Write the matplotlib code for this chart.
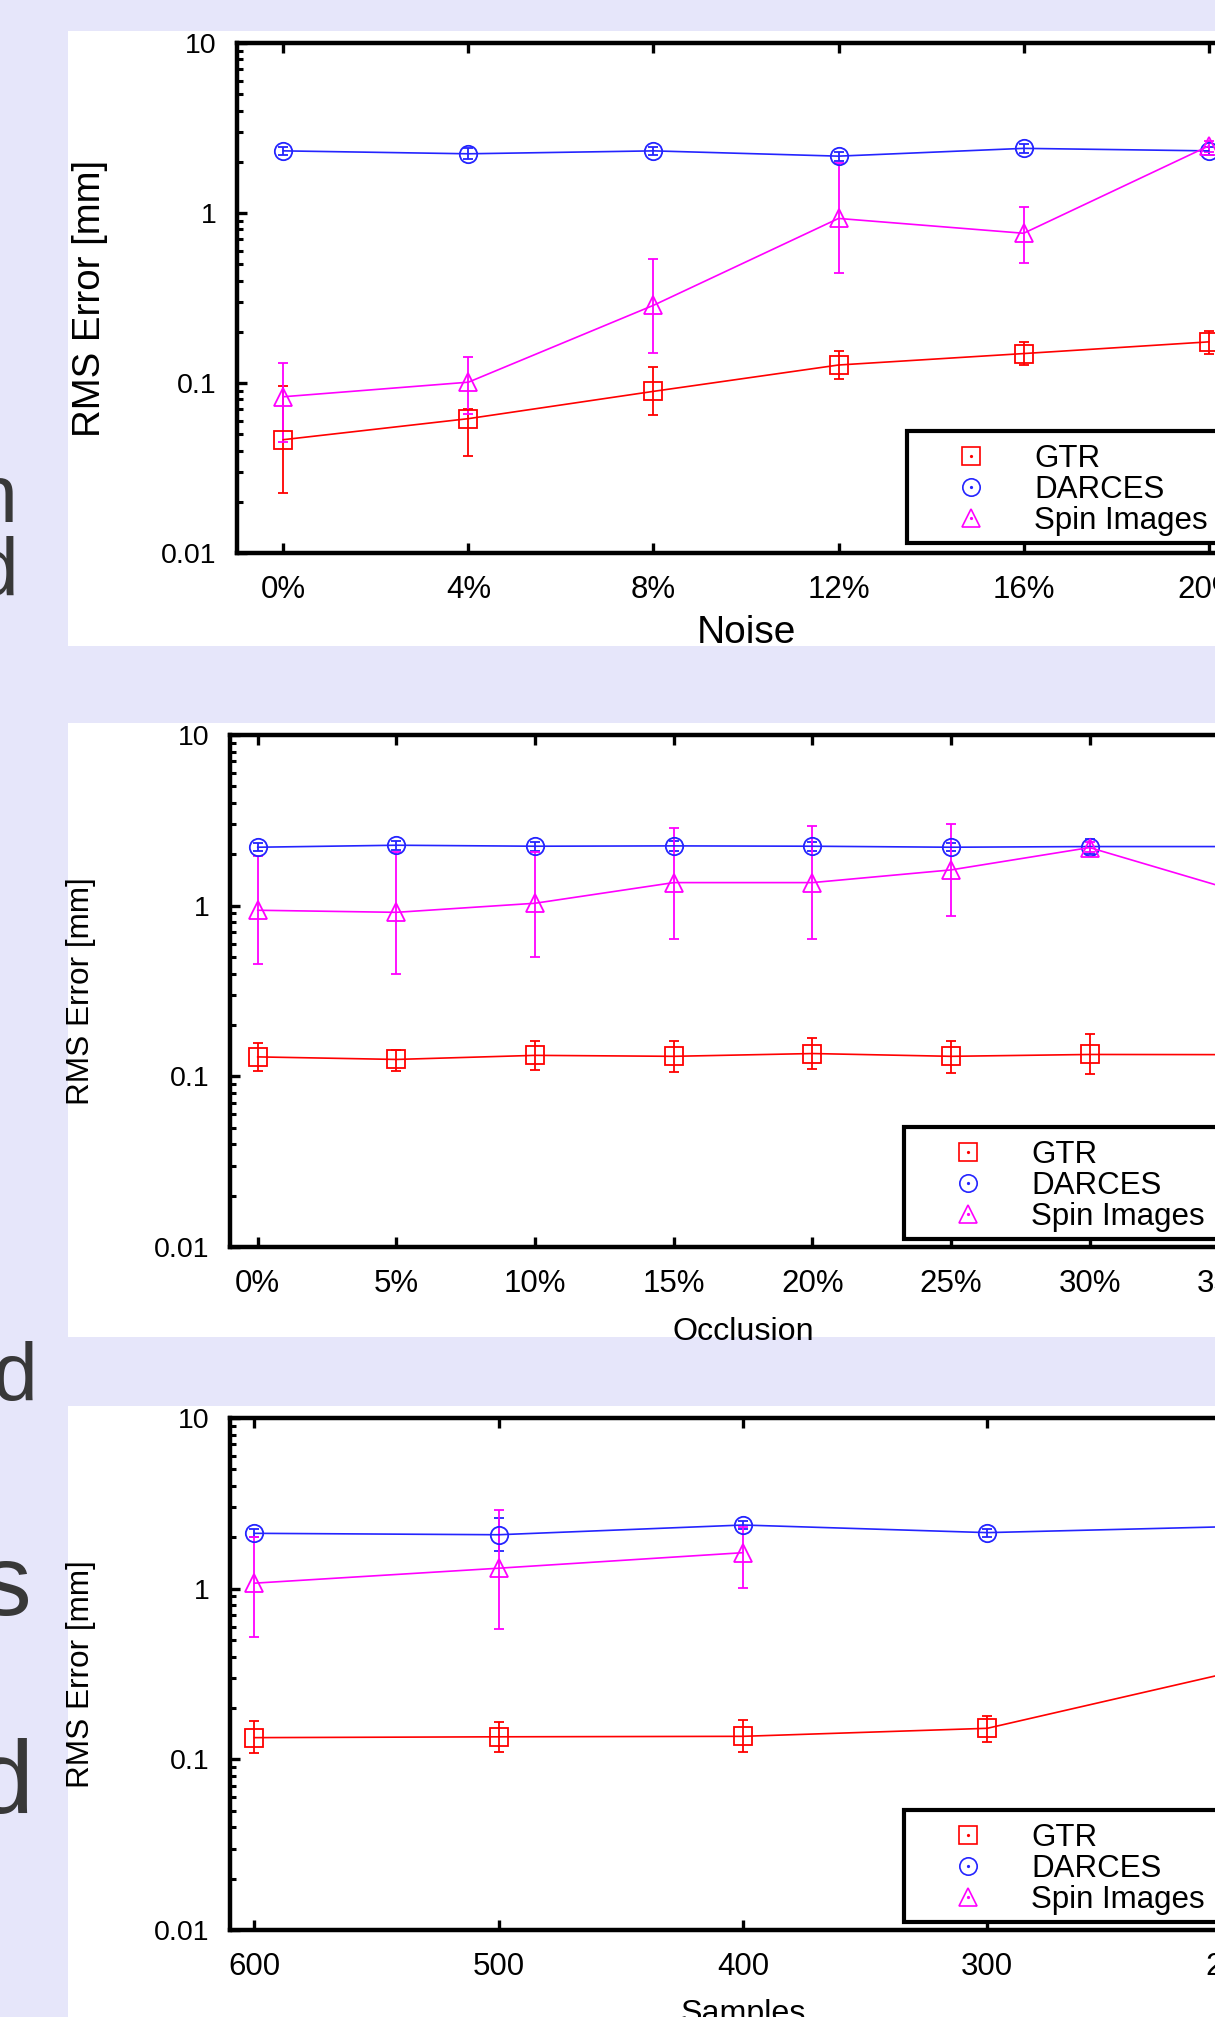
import matplotlib
matplotlib.use("Agg")
import matplotlib.pyplot as plt
from matplotlib.patches import Rectangle
from matplotlib.lines import Line2D
from matplotlib.ticker import LogLocator, NullFormatter, NullLocator
import numpy as np

plt.rcParams['font.family'] = ['Liberation Sans', 'DejaVu Sans']

# ---- data ----
labels = ["GTR", "DARCES", "Spin Images"]

noise_x = [0, 4, 8, 12, 16, 20]
noise_gtr = [0.0464, 0.0617, 0.0893, 0.1276, 0.149, 0.1746]
noise_gtr_lo = [0.0225, 0.0374, 0.0645, 0.105, 0.128, 0.149]
noise_gtr_hi = [0.0962, 0.0703, 0.124, 0.155, 0.174, 0.201]
noise_darces = [2.32, 2.23, 2.32, 2.16, 2.40, 2.32]
noise_darces_lo = [2.18, 2.08, 2.20, 2.03, 2.26, 2.18]
noise_darces_hi = [2.46, 2.40, 2.45, 2.30, 2.55, 2.46]
noise_spin = [0.083, 0.1011, 0.2864, 0.929, 0.760, 2.48]
noise_spin_lo = [0.045, 0.066, 0.1507, 0.444, 0.506, 2.30]
noise_spin_hi = [0.1306, 0.142, 0.535, 1.98, 1.09, 2.65]

occl_x = [0, 5, 10, 15, 20, 25, 30, 35]
occl_gtr = [0.130, 0.1256, 0.1327, 0.131, 0.136, 0.131, 0.1343, 0.134]
occl_gtr_lo = [0.108, 0.108, 0.109, 0.1057, 0.1105, 0.1045, 0.1033, 0.110]
occl_gtr_hi = [0.157, 0.1435, 0.162, 0.162, 0.168, 0.162, 0.176, 0.160]
occl_darces = [2.20, 2.26, 2.23, 2.24, 2.23, 2.20, 2.22, 2.22]
occl_darces_lo = [2.08, 2.12, 2.10, 2.10, 2.10, 2.08, 2.00, 2.10]
occl_darces_hi = [2.32, 2.40, 2.36, 2.38, 2.36, 2.32, 2.45, 2.34]
occl_spin = [0.94, 0.914, 1.033, 1.365, 1.365, 1.62, 2.19, 1.26]
occl_spin_lo = [0.454, 0.397, 0.501, 0.641, 0.634, 0.875, 2.05, 1.00]
occl_spin_hi = [1.96, 2.05, 2.05, 2.86, 2.94, 3.03, 2.35, 1.60]

samp_x = [600, 500, 400, 300, 200]
samp_gtr = [0.134, 0.1355, 0.1364, 0.152, 0.324]
samp_gtr_lo = [0.109, 0.1107, 0.1107, 0.126, 0.28]
samp_gtr_hi = [0.167, 0.165, 0.1706, 0.180, 0.37]
samp_darces = [2.11, 2.07, 2.36, 2.13, 2.31]
samp_darces_lo = [2.00, 1.67, 2.25, 2.02, 2.20]
samp_darces_hi = [2.25, 2.61, 2.50, 2.25, 2.45]
samp_spin_x = [600, 500, 400]
samp_spin = [1.077, 1.318, 1.625]
samp_spin_lo = [0.519, 0.583, 1.009]
samp_spin_hi = [2.00, 2.89, 2.30]

colors = ["#ff0000", "#2424ff", "#ff00ff"]
markers = ["s", "o", "^"]

W, H = 1215, 2017


def fx(px):
    return px / W


def fy(py):
    return 1 - py / H


fig = plt.figure(figsize=(W / 100, H / 100), dpi=100, facecolor="#e6e6fa")

# white slide panels behind each plot
for top, bottom in [(31, 646), (723, 1337), (1406, 2030)]:
    fig.add_artist(Rectangle((fx(68), fy(bottom)), 1.0, (bottom - top) / H,
                             transform=fig.transFigure, facecolor="white",
                             edgecolor="none", zorder=-5))

# clipped letters from the slide text on the left
for ch, xr, yb, fs in [("n", 17, 522, 58), ("d", 18, 595, 58), ("d", 37, 1400, 58),
                       ("s", 31, 1615, 73), ("d", 34, 1813, 75)]:
    fig.text(fx(xr), fy(yb), ch, ha="right", va="baseline", fontsize=fs,
             color="#383838", family="Liberation Sans")


def draw_panel(box, xlim, series, xticks, xticklabels, xlabel, xlab_fs, ylab_fs,
               ylab_x, xlab_y, key_left, key_top):
    left, right, top, bottom = box
    ax = fig.add_axes([fx(left), fy(bottom), (right - left) / W, (bottom - top) / H])
    for (x, y, lo, hi), c, m in zip(series, colors, markers):
        y = np.array(y)
        yerr = [y - np.array(lo), np.array(hi) - y]
        ax.errorbar(x, y, yerr=yerr, color=c, marker=m, ms=12.5, mfc="none", mec=c,
                    mew=1.3, lw=1.2, elinewidth=1.3, capsize=3.6, capthick=1.5)
    ax.set_yscale("log")
    ax.set_ylim(0.01, 10)
    ax.set_xlim(*xlim)
    ax.set_yticks([0.01, 0.1, 1, 10])
    ax.set_yticklabels(["0.01", "0.1", "1", "10"])
    ax.yaxis.set_minor_locator(LogLocator(base=10, subs=np.arange(2, 10)))
    ax.yaxis.set_minor_formatter(NullFormatter())
    ax.set_xticks(xticks)
    ax.set_xticklabels(xticklabels)
    ax.xaxis.set_minor_locator(NullLocator())
    ax.tick_params(which="major", direction="in", length=7.5, width=2.4, top=True, right=True)
    ax.tick_params(which="minor", direction="in", length=4.5, width=2.2, right=True)
    ax.tick_params(axis="x", labelsize=22.5, pad=15.5)
    ax.tick_params(axis="y", labelsize=20.5, pad=15)
    for s in ax.spines.values():
        s.set_linewidth(3.2)
    ax.set_ylabel("RMS Error [mm]", fontsize=ylab_fs, va="center")
    ax.yaxis.set_label_coords((ylab_x - left) / (right - left), 0.5)
    ax.set_xlabel(xlabel, fontsize=xlab_fs, va="center")
    ax.xaxis.set_label_coords(0.5, -(xlab_y - bottom) / (bottom - top))

    # key box, gnuplot style
    fig.add_artist(Rectangle((fx(key_left), fy(key_top + 112)), 1.0, 112 / H,
                             transform=fig.transFigure, facecolor="white",
                             edgecolor="black", lw=3.0, zorder=10))
    for i, (lab, c, m) in enumerate(zip(labels, colors, markers)):
        yc = key_top + 25 + 31 * i
        fig.add_artist(Line2D([fx(key_left + 64)], [fy(yc)], marker=m, ms=12.5, mfc="none",
                              mec=c, mew=1.2, ls="none", transform=fig.transFigure, zorder=11))
        fig.add_artist(Line2D([fx(key_left + 64)], [fy(yc)], marker="o", ms=1.3, mfc=c,
                              mec=c, ls="none", transform=fig.transFigure, zorder=11))
        fig.text(fx(key_left + 127), fy(yc + 11), lab, fontsize=22.5, va="baseline",
                 ha="left", zorder=11)
    return ax


draw_panel((237, 1255, 43, 553), (-1, 21),
           [(noise_x, noise_gtr, noise_gtr_lo, noise_gtr_hi),
            (noise_x, noise_darces, noise_darces_lo, noise_darces_hi),
            (noise_x, noise_spin, noise_spin_lo, noise_spin_hi)],
           noise_x, ["%d%%" % v for v in noise_x], "Noise", 28, 27.6, 90, 633, 907, 431)

draw_panel((230, 1256, 735, 1247), (-1, 36),
           [(occl_x, occl_gtr, occl_gtr_lo, occl_gtr_hi),
            (occl_x, occl_darces, occl_darces_lo, occl_darces_hi),
            (occl_x, occl_spin, occl_spin_lo, occl_spin_hi)],
           occl_x, ["%d%%" % v for v in occl_x], "Occlusion", 23.2, 22.7, 81, 1332, 904, 1127)

draw_panel((230, 1256, 1418, 1930), (610, 190),
           [(samp_x, samp_gtr, samp_gtr_lo, samp_gtr_hi),
            (samp_x, samp_darces, samp_darces_lo, samp_darces_hi),
            (samp_spin_x, samp_spin, samp_spin_lo, samp_spin_hi)],
           samp_x, [str(v) for v in samp_x], "Samples", 23.2, 22.7, 81, 2014, 904, 1810)

fig.savefig("out.png", dpi=100, facecolor=fig.get_facecolor())
